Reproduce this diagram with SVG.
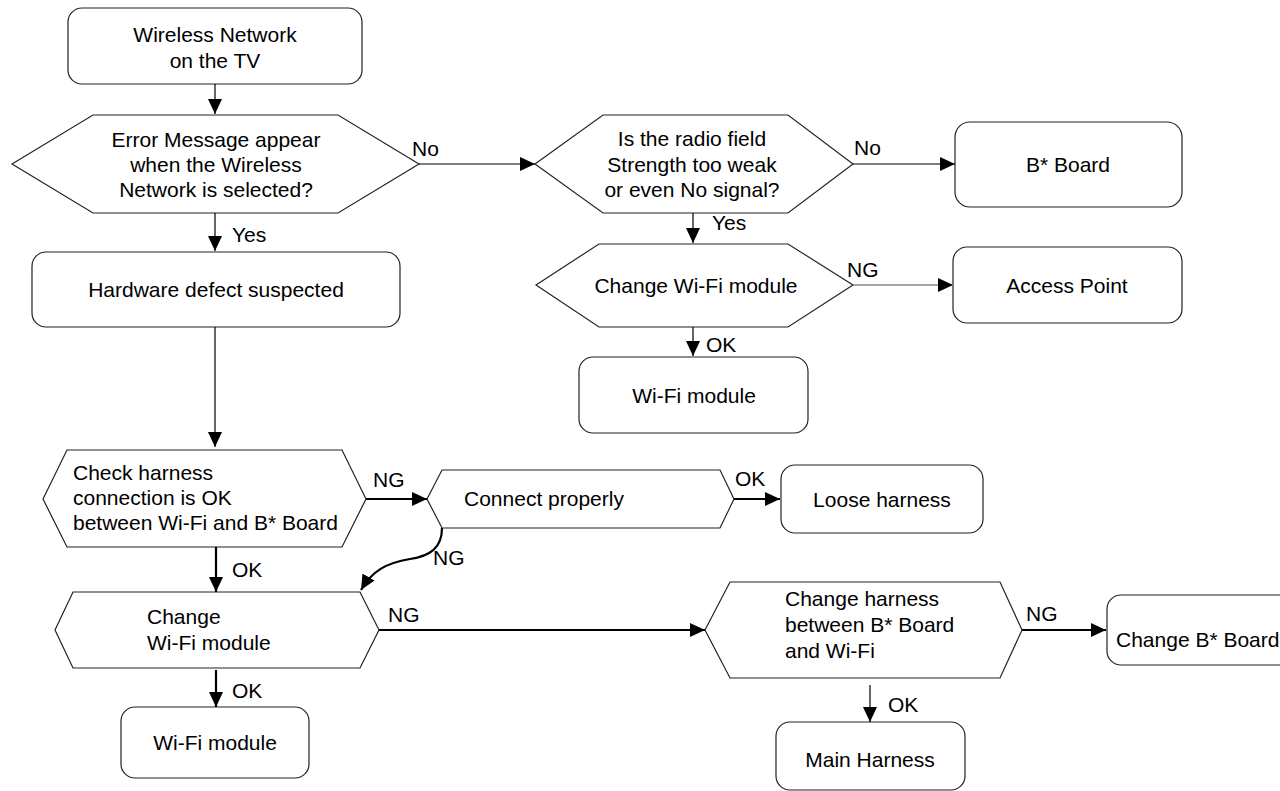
<svg xmlns="http://www.w3.org/2000/svg" width="1280" height="791" viewBox="0 0 1280 791">
<style>
.box{fill:#fff;stroke:#222;stroke-width:1.2}
.t{font-family:"Liberation Sans",Arial,sans-serif;font-size:21px;fill:#000}
.c{text-anchor:middle}
.ln{fill:none;stroke:#000;stroke-width:1.2}
.th{fill:none;stroke:#000;stroke-width:2.2}
.gr{fill:none;stroke:#888;stroke-width:1.5}
</style>
<defs>
<marker id="ah" markerUnits="userSpaceOnUse" markerWidth="15" markerHeight="14" refX="15" refY="7" orient="auto">
<path d="M0,0 L15,7 L0,14 z" fill="#000"/>
</marker>
</defs>
<rect width="1280" height="791" fill="#fff"/>

<g id="n-start">
<rect class="box" x="68" y="8" width="294" height="76" rx="14"/>
<text class="t c" x="215" y="42">Wireless Network</text>
<text class="t c" x="215" y="68">on the TV</text>
</g>

<g id="n-error">
<polygon class="box" points="12,164 93,115 338,115 419,164 338,213 93,213"/>
<text class="t c" x="216" y="147">Error Message appear</text>
<text class="t c" x="216" y="172">when the Wireless</text>
<text class="t c" x="216" y="197">Network is selected?</text>
</g>

<g id="n-radio">
<polygon class="box" points="535,164 603,115 788,115 853,164 788,213 603,213"/>
<text class="t c" x="692" y="146">Is the radio field</text>
<text class="t c" x="692" y="172">Strength too weak</text>
<text class="t c" x="692" y="197">or even No signal?</text>
</g>

<g id="n-bboard">
<rect class="box" x="955" y="122" width="227" height="85" rx="15"/>
<text class="t c" x="1068" y="172">B* Board</text>
</g>

<g id="n-hw">
<rect class="box" x="32" y="252" width="368" height="75" rx="14"/>
<text class="t c" x="216" y="297">Hardware defect suspected</text>
</g>

<g id="n-changewifi1">
<polygon class="box" points="536,285 599,244 788,244 853,285 788,327 599,327"/>
<text class="t c" x="696" y="293">Change Wi-Fi module</text>
</g>

<g id="n-ap">
<rect class="box" x="953" y="247" width="229" height="76" rx="14"/>
<text class="t c" x="1067" y="293">Access Point</text>
</g>

<g id="n-wifi1">
<rect class="box" x="579" y="357" width="229" height="76" rx="14"/>
<text class="t c" x="694" y="403">Wi-Fi module</text>
</g>

<g id="n-check">
<polygon class="box" points="43,499 67,450 342,450 366,499 342,547 67,547"/>
<text class="t" x="73" y="480">Check harness</text>
<text class="t" x="73" y="505">connection is OK</text>
<text class="t" x="73" y="530">between Wi-Fi and B* Board</text>
</g>

<g id="n-connect">
<polygon class="box" points="427,499 442,470 720,470 734,499 720,528 442,528"/>
<text class="t" x="464" y="506">Connect properly</text>
</g>

<g id="n-loose">
<rect class="box" x="781" y="465" width="202" height="68" rx="14"/>
<text class="t c" x="882" y="507">Loose harness</text>
</g>

<g id="n-changewifi2">
<polygon class="box" points="55,630 73,592 360,592 379,630 360,668 73,668"/>
<text class="t" x="147" y="624">Change</text>
<text class="t" x="147" y="650">Wi-Fi module</text>
</g>

<g id="n-wifi2">
<rect class="box" x="121" y="707" width="188" height="71" rx="14"/>
<text class="t c" x="215" y="750">Wi-Fi module</text>
</g>

<g id="n-harness">
<polygon class="box" points="705,630 730,582 1000,582 1022,630 1000,678 730,678"/>
<text class="t" x="785" y="606">Change harness</text>
<text class="t" x="785" y="632">between B* Board</text>
<text class="t" x="785" y="658">and Wi-Fi</text>
</g>

<g id="n-changeb">
<rect class="box" x="1107" y="595" width="190" height="70" rx="14"/>
<text class="t" x="1116" y="647">Change B* Board</text>
</g>

<g id="n-main">
<rect class="box" x="776" y="722" width="189" height="68" rx="14"/>
<text class="t c" x="870" y="767">Main Harness</text>
</g>

<g id="connectors">
<line class="ln" x1="215" y1="84" x2="215" y2="114" marker-end="url(#ah)"/>
<line class="ln" x1="419" y1="164" x2="535" y2="164" marker-end="url(#ah)"/>
<line class="ln" x1="853" y1="164" x2="955" y2="164" marker-end="url(#ah)"/>
<line class="ln" x1="215" y1="213" x2="215" y2="251" marker-end="url(#ah)"/>
<line class="ln" x1="693" y1="213" x2="693" y2="243" marker-end="url(#ah)"/>
<line class="gr" x1="853" y1="285" x2="953" y2="285" marker-end="url(#ah)"/>
<line class="ln" x1="693" y1="327" x2="693" y2="356" marker-end="url(#ah)"/>
<line class="ln" x1="215" y1="327" x2="215" y2="447" marker-end="url(#ah)"/>
<line class="th" x1="366" y1="499" x2="427" y2="499" marker-end="url(#ah)"/>
<line class="th" x1="734" y1="499" x2="780" y2="499" marker-end="url(#ah)"/>
<path class="th" d="M442,528 C442,548 430,556 410,559 C386,563 372,571 361,590" marker-end="url(#ah)"/>
<line class="th" x1="216" y1="547" x2="216" y2="592" marker-end="url(#ah)"/>
<line class="th" x1="379" y1="630" x2="705" y2="630" marker-end="url(#ah)"/>
<line class="th" x1="216" y1="670" x2="216" y2="707" marker-end="url(#ah)"/>
<line class="th" x1="1022" y1="630" x2="1106" y2="630" marker-end="url(#ah)"/>
<line class="ln" x1="870" y1="685" x2="870" y2="722" marker-end="url(#ah)"/>
<text class="t" x="412" y="156">No</text>
<text class="t" x="232" y="242">Yes</text>
<text class="t" x="854" y="155">No</text>
<text class="t" x="712" y="230">Yes</text>
<text class="t" x="847" y="277">NG</text>
<text class="t" x="706" y="352">OK</text>
<text class="t" x="373" y="487">NG</text>
<text class="t" x="735" y="486">OK</text>
<text class="t" x="433" y="565">NG</text>
<text class="t" x="232" y="577">OK</text>
<text class="t" x="388" y="622">NG</text>
<text class="t" x="232" y="698">OK</text>
<text class="t" x="1026" y="621">NG</text>
<text class="t" x="888" y="712">OK</text>
</g>
</svg>
